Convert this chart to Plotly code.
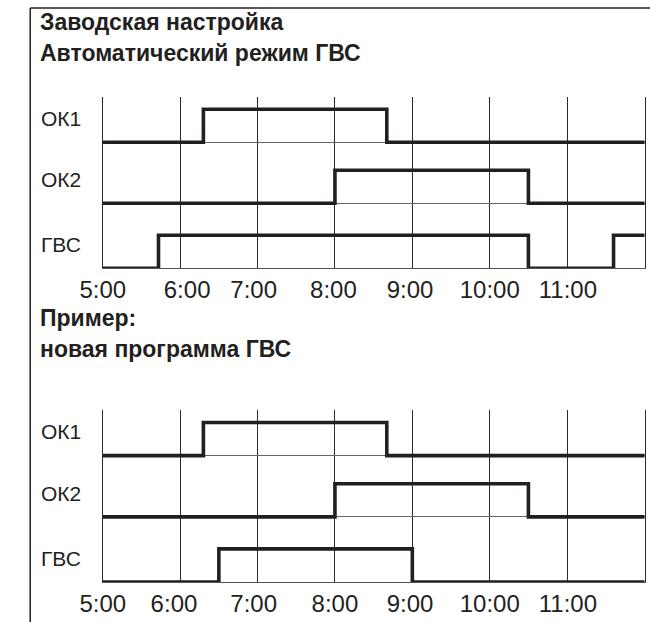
import plotly.graph_objects as go

# signal rows, top to bottom
row_names = ["ОК1", "ОК2", "ГВС"]

# panel 1: заводская настройка (switch times in hours, state after switch)
p1_ok1_t = [5.0, 6.3, 8.67, 12.08]
p1_ok1_s = [0, 1, 0, 0]
p1_ok2_t = [5.0, 8.0, 10.5, 12.08]
p1_ok2_s = [0, 1, 0, 0]
p1_gvs_t = [5.0, 5.72, 10.5, 11.6, 12.08]
p1_gvs_s = [0, 1, 0, 1, 1]

# panel 2: новая программа ГВС
p2_ok1_t = [5.0, 6.3, 8.67, 12.08]
p2_ok1_s = [0, 1, 0, 0]
p2_ok2_t = [5.0, 8.0, 10.5, 12.08]
p2_ok2_s = [0, 1, 0, 0]
p2_gvs_t = [5.0, 6.5, 9.0, 12.08]
p2_gvs_s = [0, 1, 0, 0]

# hour grid and time labels (labels sit a bit off the grid in the original)
grid_hours = [6, 7, 8, 9, 10, 11]
tick_text = ["5:00", "6:00", "7:00", "8:00", "9:00", "10:00", "11:00"]
p1_tick_pos = [5.0, 6.09, 6.95, 7.98, 8.97, 10.0, 11.01]
p2_tick_pos = [5.0, 5.92, 6.95, 8.0, 8.97, 10.0, 11.01]

INK = "#231f20"
FONT = "Liberation Sans, Arial, Helvetica, sans-serif"
W, H = 650, 622

# vertical offset of each row (ОК1, ОК2, ГВС) inside a panel
row_base = [3.82, 1.97, 0.0]


def px_y(y):
    return 1 - y / H


fig = go.Figure()

panels = [
    ("x", "y", [(p1_ok1_t, p1_ok1_s), (p1_ok2_t, p1_ok2_s), (p1_gvs_t, p1_gvs_s)]),
    ("x2", "y2", [(p2_ok1_t, p2_ok1_s), (p2_ok2_t, p2_ok2_s), (p2_gvs_t, p2_gvs_s)]),
]

for xa, ya, rows in panels:
    for (t, s), base, name in zip(rows, row_base, row_names):
        fig.add_trace(go.Scatter(
            x=t, y=[base + v for v in s],
            mode="lines", line=dict(color=INK, width=3.6, shape="hv"),
            xaxis=xa, yaxis=ya, cliponaxis=False, showlegend=False,
            hoverinfo="skip"
        ))
        fig.add_annotation(
            text=name, xref="paper", yref=ya, x=17 / W, y=base + 0.72,
            xanchor="left", yanchor="middle", showarrow=False,
            font=dict(family=FONT, size=21, color=INK)
        )

x_dom = [82.7 / W, 644.3 / W]
y_rng = [0, 5.2]


def xaxis(ticks_pos, anchor):
    return dict(
        domain=x_dom, range=[5, 12], anchor=anchor,
        tickmode="array", tickvals=ticks_pos, ticktext=tick_text,
        showgrid=False, zeroline=False, ticks="",
        ticklabelstandoff=0,
        showline=True, linecolor="#555", linewidth=1,
        tickfont=dict(family=FONT, size=24, color=INK),
        minor=dict(tickmode="array", tickvals=grid_hours, showgrid=True,
                   gridcolor="#2a2a2a", gridwidth=1, ticks=""),
        fixedrange=True
    )


def yaxis(dom, anchor):
    return dict(
        domain=dom, range=y_rng, anchor=anchor,
        tickmode="array", tickvals=row_base, showticklabels=False,
        showgrid=True, gridcolor="#666", gridwidth=1, zeroline=False,
        showline=True, mirror=True, linecolor="#2a2a2a", linewidth=1,
        fixedrange=True
    )


fig.update_layout(
    width=W, height=H,
    margin=dict(l=0, r=0, t=0, b=0),
    paper_bgcolor="white", plot_bgcolor="white",
    xaxis=xaxis(p1_tick_pos, "y"),
    yaxis=yaxis([px_y(268.3), px_y(96.7)], "x"),
    xaxis2=xaxis(p2_tick_pos, "y2"),
    yaxis2=yaxis([px_y(582), px_y(410)], "x2"),
)

# headings
headings = [
    ("Заводская настройка", 22),
    ("Автоматический режим ГВС", 53),
    ("Пример:", 318),
    ("новая программа ГВС", 349),
]
for txt, yc in headings:
    fig.add_annotation(
        text="<b>" + txt + "</b>", xref="paper", yref="paper",
        x=16 / W, y=px_y(yc), xanchor="left", yanchor="middle",
        showarrow=False, font=dict(family=FONT, size=23, color=INK)
    )

# page frame (top and left edge)
fig.add_shape(type="line", xref="paper", yref="paper",
              x0=7.5 / W, x1=1, y0=px_y(8), y1=px_y(8),
              line=dict(color=INK, width=1.5))
fig.add_shape(type="line", xref="paper", yref="paper",
              x0=7.5 / W, x1=7.5 / W, y0=px_y(8), y1=0,
              line=dict(color=INK, width=1.5))

# the page body has a default margin; drop it so the chart fills the window
fig.write_html("out.html", config={"displayModeBar": False},
               post_script="document.body.style.margin = '0';")
